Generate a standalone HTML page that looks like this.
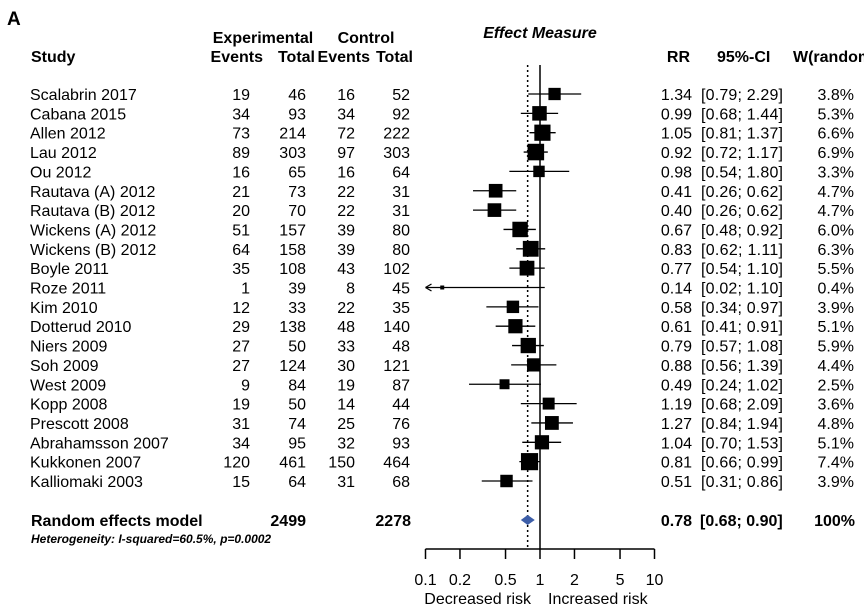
<!DOCTYPE html>
<html><head><meta charset="utf-8"><style>
body{margin:0;background:#fff}
svg{display:block;font-family:"Liberation Sans",Arial,sans-serif}
</style></head><body>
<svg id="c" width="864" height="612" viewBox="0 0 864 612">
<text x="7" y="25" font-size="19" font-weight="bold">A</text>
<text x="263" y="43" font-size="16" font-weight="bold" text-anchor="middle">Experimental</text>
<text x="366" y="43" font-size="16" font-weight="bold" text-anchor="middle">Control</text>
<text x="540" y="38" font-size="16" font-weight="bold" font-style="italic" text-anchor="middle">Effect Measure</text>
<g font-size="16" font-weight="bold">
<text x="31" y="62">Study</text>
<text x="263" y="62" text-anchor="end">Events</text>
<text x="315" y="62" text-anchor="end">Total</text>
<text x="370" y="62" text-anchor="end">Events</text>
<text x="413" y="62" text-anchor="end">Total</text>
<text x="690" y="62" text-anchor="end">RR</text>
<text x="717" y="62">95%-CI</text>
<text x="793" y="62">W(random)</text>
</g>
<g id="rows"></g>
<g id="plot"></g>
<g font-size="16" font-weight="bold">
<text x="31" y="526">Random effects model</text>
<text x="306" y="526" text-anchor="end">2499</text>
<text x="411" y="526" text-anchor="end">2278</text>
<text x="692" y="526" text-anchor="end">0.78</text>
<text x="700" y="526">[0.68; 0.90]</text>
<text x="855" y="526" text-anchor="end">100%</text>
</g>
<text x="31" y="543" font-size="12" font-weight="bold" font-style="italic">Heterogeneity: I-squared=60.5%, p=0.0002</text>
<text x="531" y="604" font-size="16" text-anchor="end">Decreased risk</text>
<text x="548" y="604" font-size="16">Increased risk</text>
</svg>
<script>
const studies=["Scalabrin 2017","Cabana 2015","Allen 2012","Lau 2012","Ou 2012","Rautava (A) 2012","Rautava (B) 2012","Wickens (A) 2012","Wickens (B) 2012","Boyle 2011","Roze 2011","Kim 2010","Dotterud 2010","Niers 2009","Soh 2009","West 2009","Kopp 2008","Prescott 2008","Abrahamsson 2007","Kukkonen 2007","Kalliomaki 2003"];
const expEvents=[19,34,73,89,16,21,20,51,64,35,1,12,29,27,27,9,19,31,34,120,15];
const expTotal=[46,93,214,303,65,73,70,157,158,108,39,33,138,50,124,84,50,74,95,461,64];
const ctrlEvents=[16,34,72,97,16,22,22,39,39,43,8,22,48,33,30,19,14,25,32,150,31];
const ctrlTotal=[52,92,222,303,64,31,31,80,80,102,45,35,140,48,121,87,44,76,93,464,68];
const rr=[1.34,0.99,1.05,0.92,0.98,0.41,0.40,0.67,0.83,0.77,0.14,0.58,0.61,0.79,0.88,0.49,1.19,1.27,1.04,0.81,0.51];
const lo=[0.79,0.68,0.81,0.72,0.54,0.26,0.26,0.48,0.62,0.54,0.02,0.34,0.41,0.57,0.56,0.24,0.68,0.84,0.70,0.66,0.31];
const hi=[2.29,1.44,1.37,1.17,1.80,0.62,0.62,0.92,1.11,1.10,1.10,0.97,0.91,1.08,1.39,1.02,2.09,1.94,1.53,0.99,0.86];
const weight=[3.8,5.3,6.6,6.9,3.3,4.7,4.7,6.0,6.3,5.5,0.4,3.9,5.1,5.9,4.4,2.5,3.6,4.8,5.1,7.4,3.9];
const pooled=[0.78,0.68,0.90];
const ticks=[0.1,0.2,0.5,1,2,5,10];
const tickLabels=["0.1","0.2","0.5","1","2","5","10"];
const NS="http://www.w3.org/2000/svg";
const X=v=>540+114.5*Math.log10(v);
const Y=i=>94+i*19.35;
const xmin=0.1,xmax=10;
function mk(tag,at,parent){const e=document.createElementNS(NS,tag);for(const k in at)e.setAttribute(k,at[k]);parent.appendChild(e);return e;}
const rows=document.getElementById('rows'),plot=document.getElementById('plot');
const fmt=v=>v.toFixed(2);
studies.forEach((s,i)=>{
 const y=Y(i)+6;
 const cols=[[s,30,'start'],[expEvents[i],250,'end'],[expTotal[i],306,'end'],[ctrlEvents[i],355,'end'],[ctrlTotal[i],410,'end'],[fmt(rr[i]),692,'end'],['['+fmt(lo[i])+'; '+fmt(hi[i])+']',701,'start'],[weight[i].toFixed(1)+'%',854,'end']];
 const names=['study-name','exp-events','exp-total','ctrl-events','ctrl-total','rr-value','ci-value','weight-value'];
 cols.forEach((c,j)=>{const t=mk('text',{x:c[1],y:y,'font-size':16,'text-anchor':c[2]},rows);t.textContent=c[0];
  if(j===6)t.setAttribute('textLength','82');
  
  });
});
const vl=mk('line',{x1:X(1),x2:X(1),y1:65,y2:549,stroke:'#000','stroke-width':1.5},plot);


const dl=mk('line',{x1:X(pooled[0]),x2:X(pooled[0]),y1:65,y2:549,stroke:'#000','stroke-width':1.5,'stroke-dasharray':'2,3'},plot);


studies.forEach((s,i)=>{
 const y=Y(i);
 const l=Math.max(lo[i],xmin),h=Math.min(hi[i],xmax);
 const ln=mk('line',{x1:X(l),x2:X(h),y1:y,y2:y,stroke:'#000','stroke-width':1.3},plot);
 
 
 if(lo[i]<xmin){const a=mk('path',{d:`M${X(xmin)} ${y} l6 -3.5 M${X(xmin)} ${y} l6 3.5`,stroke:'#000','stroke-width':1.3,fill:'none'},plot);
  
  }
 const sz=6.3*Math.sqrt(weight[i]);
 const r=mk('rect',{x:X(rr[i])-sz/2,y:y-sz/2,width:sz,height:sz,fill:'#000'},plot);
 
 
});
const dy=520;
const d=mk('path',{d:`M${X(pooled[1])} ${dy} L${X(pooled[0])} ${dy-5} L${X(pooled[2])} ${dy} L${X(pooled[0])} ${dy+5} Z`,fill:'#3d5ea8'},plot);


const ax=mk('line',{x1:X(xmin),x2:X(xmax),y1:549,y2:549,stroke:'#000','stroke-width':1.5},plot);


ticks.forEach((t,i)=>{
 const tk=mk('line',{x1:X(t),x2:X(t),y1:549,y2:559,stroke:'#000','stroke-width':1.5},plot);
 
 
 const tl=mk('text',{x:X(t),y:585,'font-size':16,'text-anchor':'middle'},plot);
 tl.textContent=tickLabels[i];
 
 
});
</script>
</body></html>
